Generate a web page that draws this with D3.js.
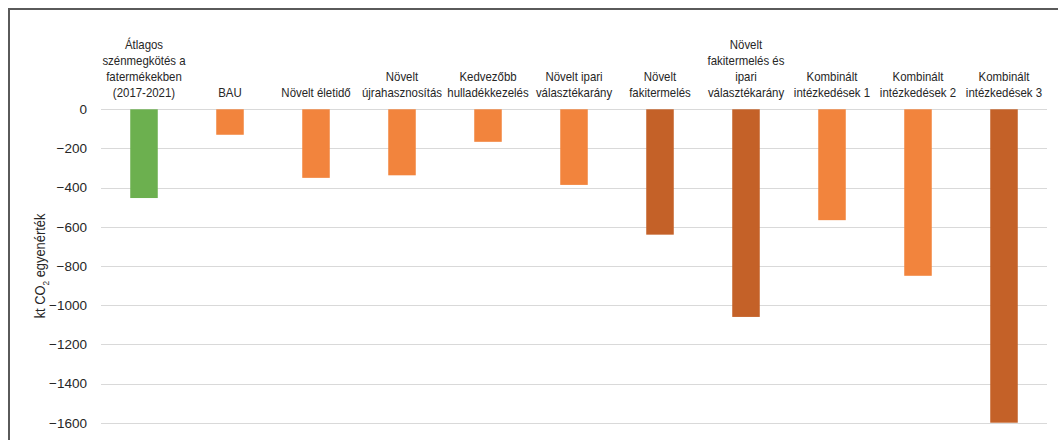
<!DOCTYPE html>
<html>
<head>
<meta charset="utf-8">
<script src="https://cdn.jsdelivr.net/npm/d3@7"></script>
<style>
  html, body { margin: 0; padding: 0; background: #fff; }
  svg { display: block; font-family: "Liberation Sans", Arial, sans-serif; }
</style>
</head>
<body>
<svg id="chart" width="1058" height="440"></svg>
<script>
// Scenario labels (one entry per line of the wrapped label)
const categories = [
  ["Átlagos", "szénmegkötés a", "fatermékekben", "(2017-2021)"],
  ["BAU"],
  ["Növelt életidő"],
  ["Növelt", "újrahasznosítás"],
  ["Kedvezőbb", "hulladékkezelés"],
  ["Növelt ipari", "választékarány"],
  ["Növelt", "fakitermelés"],
  ["Növelt", "fakitermelés és", "ipari", "választékarány"],
  ["Kombinált", "intézkedések 1"],
  ["Kombinált", "intézkedések 2"],
  ["Kombinált", "intézkedések 3"]
];

// Carbon storage change, kt CO2 equivalent
const values = [-453, -130, -350, -337, -166, -386, -640, -1060, -566, -850, -1600];

// Scenario kind drives the bar colour
const kinds = ["baseline", "measure", "measure", "measure", "measure", "measure",
               "harvest", "harvest", "measure", "measure", "harvest"];

const yTicks = [0, -200, -400, -600, -800, -1000, -1200, -1400, -1600];

const svg = d3.select("#chart");
const W = 1058, H = 440;

// outer frame
svg.append("rect")
  .attr("x", 9).attr("y", 9)
  .attr("width", W + 20).attr("height", H + 20)
  .attr("fill", "none")
  .attr("stroke", "#5a5a5a")
  .attr("stroke-width", 2);

const plot = { left: 101, right: 1047, top: 109.3, bottom: 422.7 };

const x = d3.scaleBand()
  .domain(d3.range(categories.length))
  .range([plot.left, plot.right])
  .paddingInner(0.68)
  .paddingOuter(0.34);

const y = d3.scaleLinear()
  .domain([-1600, 0])
  .range([plot.bottom, plot.top]);

const color = d3.scaleOrdinal()
  .domain(["baseline", "measure", "harvest"])
  .range(["#6CB04F", "#F2843D", "#C46128"]);

// gridlines
svg.append("g")
  .selectAll("line")
  .data(yTicks)
  .join("line")
  .attr("x1", plot.left).attr("x2", plot.right)
  .attr("y1", d => Math.round(y(d)) + 0.5)
  .attr("y2", d => Math.round(y(d)) + 0.5)
  .attr("stroke", "#d9d9d9")
  .attr("stroke-width", 1);

// y axis labels
const yAxis = d3.axisLeft(y)
  .tickValues(yTicks)
  .tickFormat(d3.format("d"))
  .tickSize(0)
  .tickPadding(0);

const yG = svg.append("g")
  .attr("transform", `translate(87,0)`)
  .call(yAxis);
yG.select(".domain").remove();
yG.selectAll("text")
  .attr("font-size", 13.5)
  .attr("fill", "#262626")
  .attr("font-family", "'Liberation Sans', Arial, sans-serif");

// bars
svg.append("g")
  .selectAll("rect")
  .data(values)
  .join("rect")
  .attr("x", (d, i) => x(i))
  .attr("width", x.bandwidth())
  .attr("y", d => y(Math.max(0, d)))
  .attr("height", d => Math.abs(y(d) - y(0)))
  .attr("fill", (d, i) => color(kinds[i]));

// category labels, bottom-aligned above the zero line (slightly condensed)
const lineH = 16;
const labels = svg.append("g")
  .attr("font-size", 13)
  .attr("fill", "#262626")
  .attr("text-anchor", "middle");

categories.forEach((lines, i) => {
  const cx = x(i) + x.bandwidth() / 2;
  const t = labels.append("text")
    .attr("transform", `translate(${cx},${97 - (lines.length - 1) * lineH}) scale(0.88,1)`);
  lines.forEach((ln, j) => {
    t.append("tspan")
      .attr("x", 0)
      .attr("dy", j === 0 ? 0 : lineH)
      .text(ln);
  });
});

// y axis title
const title = svg.append("text")
  .attr("transform", "translate(45,266) rotate(-90) scale(0.92,1)")
  .attr("text-anchor", "middle")
  .attr("font-size", 14)
  .attr("fill", "#262626");
title.append("tspan").text("kt CO");
title.append("tspan").attr("font-size", 9).attr("dy", 4).text("2");
title.append("tspan").attr("dy", -4).text(" egyenérték");
</script>
</body>
</html>
